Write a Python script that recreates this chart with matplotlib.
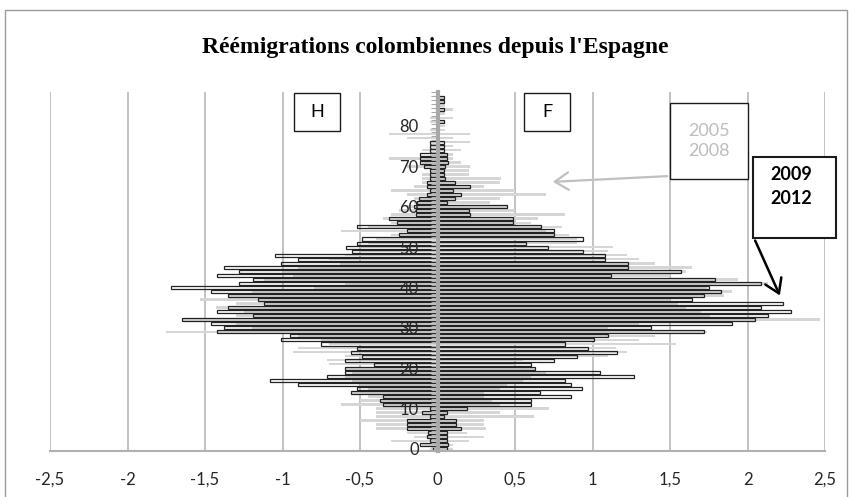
import matplotlib.pyplot as plt
from matplotlib.patches import Rectangle
from matplotlib.ticker import FixedLocator

W, H = 849, 497

ages = list(range(89))

# 2009-2012, hommes (left) / femmes (right)
h_2009 = [0.03, 0.11, 0.05, 0.07, 0.06, 0.20, 0.20, 0.20, 0.05, 0.10,
          0.05, 0.35, 0.37, 0.35, 0.56, 0.52, 0.90, 1.08, 0.71, 0.60,
          0.60, 0.41, 0.60, 0.49, 0.56, 0.52, 0.75, 1.01, 0.95, 1.42,
          1.38, 1.46, 1.65, 1.19, 1.42, 1.35, 1.12, 1.16, 1.35, 1.46,
          1.72, 1.28, 1.19, 1.42, 1.28, 1.38, 1.01, 0.90, 1.05, 0.55,
          0.59, 0.52, 0.49, 0.25, 0.20, 0.52, 0.26, 0.31, 0.14, 0.14,
          0.15, 0.13, 0.12, 0.07, 0.05, 0.07, 0.07, 0.05, 0.05, 0.05,
          0.09, 0.11, 0.11, 0.11, 0.05, 0.05, 0.05, 0, 0, 0,
          0, 0, 0, 0, 0, 0, 0, 0, 0]
f_2009 = [0.06, 0.07, 0.06, 0.06, 0.06, 0.15, 0.12, 0.12, 0.04, 0.06,
          0.19, 0.60, 0.60, 0.86, 0.66, 0.93, 0.86, 0.82, 1.27, 1.05,
          0.63, 0.60, 0.75, 0.90, 1.16, 0.97, 0.82, 1.01, 1.10, 1.72,
          1.38, 1.90, 2.05, 2.13, 2.28, 2.09, 2.23, 1.64, 1.72, 1.83,
          1.75, 2.09, 1.79, 1.12, 1.57, 1.23, 1.23, 1.08, 1.08, 0.94,
          0.71, 0.57, 0.94, 0.75, 0.75, 0.67, 0.49, 0.49, 0.21, 0.20,
          0.45, 0.06, 0.11, 0.15, 0.10, 0.21, 0.11, 0.05, 0.04, 0.04,
          0.05, 0.07, 0.06, 0.06, 0.045, 0.045, 0.045, 0, 0, 0,
          0, 0.045, 0, 0, 0.045, 0, 0.045, 0.045, 0]

# 2005-2008
h_2005 = [0.05, 0.10, 0.30, 0.15, 0.20, 0.40, 0.40, 0.50, 0.40, 0.40,
          0.40, 0.62, 0.50, 0.45, 0.55, 0.45, 0.50, 0.55, 0.60, 0.55,
          0.60, 0.70, 0.71, 0.60, 0.93, 0.90, 0.70, 0.75, 0.90, 1.75,
          1.20, 1.30, 1.64, 1.30, 1.25, 1.43, 1.30, 1.53, 1.35, 1.20,
          0.80, 0.60, 1.12, 0.93, 1.00, 0.90, 0.63, 0.70, 0.60, 0.50,
          0.50, 0.45, 0.40, 0.30, 0.62, 0.45, 0.30, 0.35, 0.30, 0.25,
          0.20, 0.15, 0.15, 0.20, 0.30, 0.15, 0.10, 0.10, 0.10, 0.05,
          0.20, 0.10, 0.31, 0.05, 0.10, 0.05, 0.05, 0.20, 0.31, 0.05,
          0, 0.05, 0.05, 0, 0, 0, 0, 0, 0]
f_2005 = [0.10, 0.10, 0.20, 0.30, 0.19, 0.31, 0.30, 0.30, 0.62, 0.40,
          0.72, 0.40, 0.35, 0.30, 0.30, 0.40, 0.45, 0.55, 0.60, 0.70,
          0.63, 0.50, 0.55, 1.10, 1.22, 1.15, 1.54, 1.30, 1.40, 1.74,
          1.10, 1.30, 2.47, 1.76, 1.70, 1.60, 1.55, 1.50, 1.85, 1.90,
          1.74, 2.13, 1.94, 1.50, 1.60, 1.64, 1.40, 1.30, 1.22, 1.10,
          1.13, 0.90, 0.90, 0.85, 0.70, 0.80, 0.60, 0.65, 0.82, 0.50,
          0.45, 0.34, 0.40, 0.70, 0.50, 0.30, 0.40, 0.41, 0.20, 0.20,
          0.21, 0.15, 0.10, 0.10, 0.15, 0.10, 0.21, 0.10, 0.21, 0.05,
          0.05, 0.05, 0.10, 0.05, 0.10, 0.05, 0.05, 0.05, 0]

x_ticks = [-2.5, -2, -1.5, -1, -0.5, 0, 0.5, 1, 1.5, 2, 2.5]
x_labels = ['-2,5', '-2', '-1,5', '-1', '-0,5', '0', '0,5', '1', '1,5', '2', '2,5']
y_ticks = [0, 10, 20, 30, 40, 50, 60, 70, 80]

title = "Réémigrations colombiennes depuis l'Espagne"

plt.rcParams['font.family'] = ['Lato', 'DejaVu Sans']

fig = plt.figure(figsize=(W / 100, H / 100), dpi=100)
ax = fig.add_axes([50 / W, 1 - 451 / H, 775 / W, 359.4 / H])

grey = '#d6d6d6'
ax.barh(ages, [-v for v in h_2005], height=0.65, color=grey, zorder=1)
ax.barh(ages, f_2005, height=0.65, color=grey, zorder=1)
ax.barh(ages, [-v for v in h_2009], height=0.75, fill=False,
        edgecolor='#222222', linewidth=0.9, zorder=2)
ax.barh(ages, f_2009, height=0.75, fill=False,
        edgecolor='#222222', linewidth=0.9, zorder=2)

ax.set_xlim(-2.5, 2.5)
ax.set_ylim(-0.5, 88.5)
ax.xaxis.set_major_locator(FixedLocator(x_ticks))
ax.set_xticklabels(x_labels)
ax.grid(axis='x', color='#b8b8b8', linewidth=1.2)
# grid under the bars, age labels over them
ax.xaxis.set_zorder(0.5)
ax.yaxis.set_zorder(4)

for s in ['top', 'right']:
    ax.spines[s].set_visible(False)
ax.spines['bottom'].set_color('#b0b0b0')
ax.spines['bottom'].set_linewidth(1.5)
ax.spines['left'].set_position(('data', 0))
ax.spines['left'].set_color('#a8a8a8')
ax.spines['left'].set_linewidth(3)
ax.spines['left'].set_zorder(3)

ax.yaxis.set_major_locator(FixedLocator(y_ticks))
ax.yaxis.set_minor_locator(FixedLocator([k + 0.5 for k in range(-1, 89)]))
ax.tick_params(axis='y', which='major', length=0, pad=13.5,
               labelsize=12, labelcolor='#262626')
ax.tick_params(axis='y', which='minor', length=5, width=0.8,
               color='#a8a8a8', direction='out')
ax.tick_params(axis='x', length=0, pad=15, labelsize=12, labelcolor='#262626')


def fxy(x, y):
    return (x / W, 1 - y / H)


# outer frame
fig.add_artist(Rectangle(fxy(5, 498), 842 / W, 488 / H, transform=fig.transFigure,
                         fill=False, edgecolor='#9a9a9a', linewidth=1))

fig.text(435 / W, 1 - 47 / H, title, ha='center', va='center',
         family='Liberation Serif', fontweight='bold', fontsize=17)


def box(x0, y0, x1, y1, lw=1.0):
    fig.add_artist(Rectangle(fxy(x0, y1), (x1 - x0) / W, (y1 - y0) / H,
                             transform=fig.transFigure, facecolor='white',
                             edgecolor='#1a1a1a', linewidth=lw, zorder=5))


box(294, 93, 340, 131)
fig.text(*fxy(317, 112), 'H', ha='center', va='center', fontsize=13, zorder=6)
box(524, 93, 570, 131)
fig.text(*fxy(547, 112), 'F', ha='center', va='center', fontsize=13, zorder=6)

box(670, 103, 748, 179)
fig.text(*fxy(709, 141), '2005\n2008', ha='center', va='center', fontsize=13,
         color='#bdbdbd', linespacing=1.3, zorder=6)
box(753, 157, 836, 238, lw=1.5)
fig.text(*fxy(791, 187), '2009\n2012', ha='center', va='center', fontsize=13,
         color='black', fontweight='bold', linespacing=1.5, zorder=6)

ax.annotate('', xy=fxy(550, 182), xycoords='figure fraction',
            xytext=fxy(670, 176), textcoords='figure fraction',
            arrowprops=dict(arrowstyle='->,head_length=0.7,head_width=0.45',
                            color='#c0c0c0', lw=1.6, mutation_scale=14),
            zorder=6)
ax.annotate('', xy=fxy(781, 298), xycoords='figure fraction',
            xytext=fxy(754, 238), textcoords='figure fraction',
            arrowprops=dict(arrowstyle='->,head_length=0.7,head_width=0.45',
                            color='black', lw=1.8, mutation_scale=14),
            zorder=6)

fig.savefig('out.png', dpi=100)
